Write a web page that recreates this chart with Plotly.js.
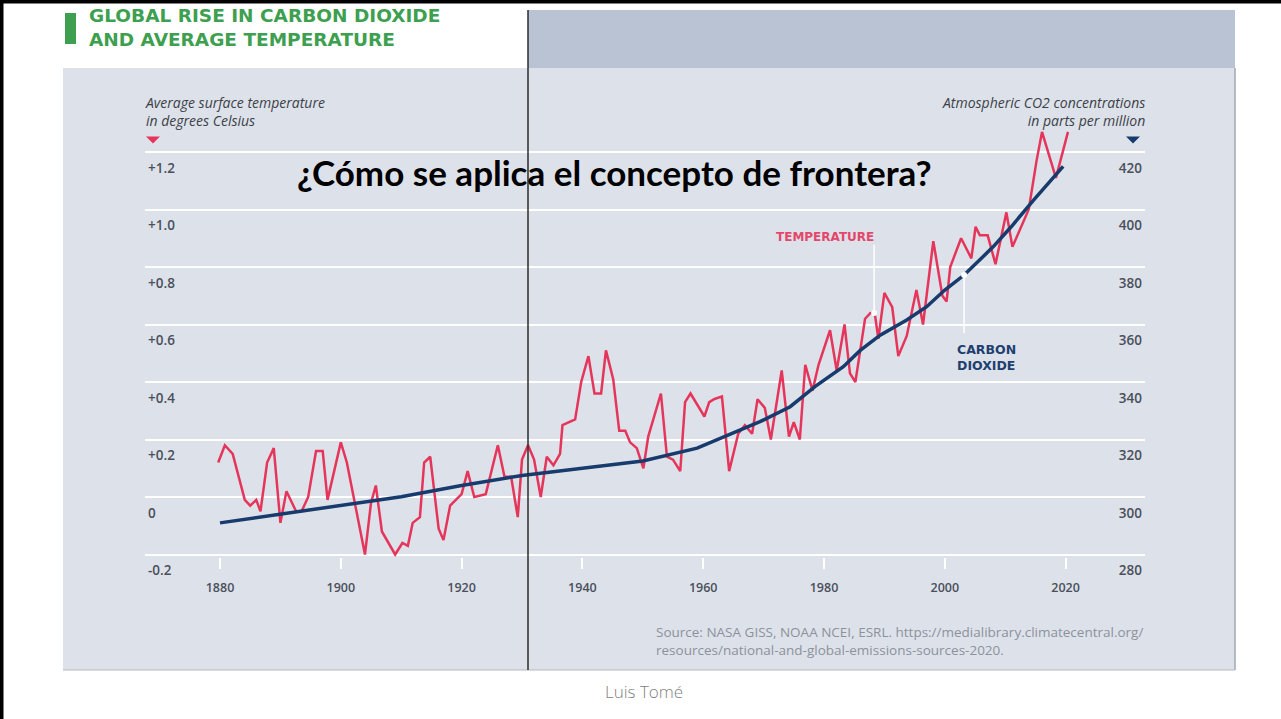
<!DOCTYPE html>
<html>
<head>
<meta charset="utf-8">
<script src="https://cdn.plot.ly/plotly-3.0.1.min.js"></script>
<style>
  html, body { margin: 0; padding: 0; background: #ffffff; }
  #chart { width: 1281px; height: 719px; }
</style>
</head>
<body>
<div id="chart"></div>
<script>
// ---- Data ----
const tempYears = [1879.7, 1880.8, 1882.1, 1884.1, 1885.0, 1886.0, 1886.7, 1887.8, 1888.9, 1890.0,
  1891.0, 1892.6, 1893.5, 1894.6, 1895.9, 1897.0, 1897.8, 1900.0, 1901.0, 1904.0,
  1905.0, 1905.8, 1906.8, 1909.0, 1910.2, 1911.1, 1911.9, 1913.1, 1913.8, 1914.8,
  1916.2, 1917.0, 1918.1, 1920.0, 1921.0, 1922.1, 1924.0, 1926.0, 1927.1, 1928.2,
  1929.3, 1930.0, 1931.0, 1932.0, 1933.1, 1934.1, 1935.2, 1936.3, 1936.7, 1938.8,
  1939.8, 1941.0, 1942.0, 1943.1, 1943.9, 1945.1, 1946.1, 1947.1, 1947.9, 1949.0,
  1950.1, 1950.9, 1953.0, 1954.0, 1955.0, 1956.2, 1957.0, 1957.9, 1960.2, 1961.0,
  1961.8, 1963.1, 1964.3, 1965.8, 1966.9, 1968.1, 1969.0, 1970.2, 1971.2, 1973.0,
  1974.2, 1975.0, 1976.0, 1976.9, 1978.1, 1979.1, 1981.0, 1982.1, 1983.4, 1984.3,
  1985.2, 1986.8, 1987.7, 1988.4, 1989.0, 1990.0, 1991.3, 1992.3, 1993.7, 1995.3,
  1996.4, 1998.1, 1999.6, 2000.3, 2000.9, 2002.7, 2004.4, 2005.1, 2005.8, 2007.1,
  2008.4, 2010.2, 2011.2, 2013.9, 2015.2, 2016.1, 2018.4, 2020.4];
const tempValues = [0.12, 0.18, 0.15, -0.01, -0.03, -0.01, -0.05, 0.12, 0.17, -0.09,
  0.02, -0.05, -0.05, 0.00, 0.16, 0.16, -0.01, 0.19, 0.12, -0.20,
  -0.02, 0.04, -0.12, -0.20, -0.16, -0.17, -0.09, -0.07, 0.12, 0.14,
  -0.11, -0.15, -0.03, 0.01, 0.09, 0.00, 0.01, 0.18, 0.07, 0.07,
  -0.07, 0.13, 0.18, 0.13, 0.00, 0.14, 0.11, 0.15, 0.25, 0.27,
  0.40, 0.49, 0.36, 0.36, 0.51, 0.41, 0.23, 0.23, 0.19, 0.17,
  0.10, 0.21, 0.36, 0.14, 0.13, 0.09, 0.33, 0.36, 0.28, 0.33,
  0.34, 0.35, 0.09, 0.22, 0.25, 0.22, 0.34, 0.31, 0.20, 0.44,
  0.21, 0.26, 0.20, 0.46, 0.37, 0.46, 0.58, 0.44, 0.60, 0.43,
  0.40, 0.62, 0.64, 0.64, 0.55, 0.71, 0.66, 0.49, 0.56, 0.72,
  0.60, 0.89, 0.70, 0.68, 0.80, 0.90, 0.83, 0.94, 0.91, 0.91,
  0.81, 0.99, 0.87, 1.00, 1.17, 1.27, 1.11, 1.27];

const co2Years = [1880, 1890, 1900, 1910, 1920, 1930, 1940, 1950, 1959, 1964, 1969.4, 1974.4,
  1978.5, 1983.2, 1986, 1989.3, 1993.7, 1997, 2000, 2003.2, 2008, 2011, 2014.7, 2019.6];
const co2Values = [291, 294, 297.3, 300.1, 304, 307.5, 310, 312.5, 317, 321.5, 326.2, 331.4,
  338.4, 345.3, 351, 356.3, 361.6, 366.2, 372, 377.2, 387, 394, 403.3, 415];

const yearTicks = [1880, 1900, 1920, 1940, 1960, 1980, 2000, 2020];
const tempTicks = [-0.2, 0, 0.2, 0.4, 0.6, 0.8, 1.0, 1.2];
const tempTickText = ['-0.2', '0', '+0.2', '+0.4', '+0.6', '+0.8', '+1.0', '+1.2'];
const co2Ticks = [280, 300, 320, 340, 360, 380, 400, 420];

// label anchor points (callouts)
const tempLabelYear = [1988.3];
const tempLabelValue = [0.64];
const co2LabelYear = [2003.2];
const co2LabelValue = [377.2];

// ---- layout helpers (pixel -> paper) ----
const L = 145, R = 1145, T = 100, B = 557;
const P = x => (x - L) / (R - L);
const Q = y => (B - y) / (B - T);

const RED = '#e6355b';
const NAVY = '#173b6c';
const GREEN = '#3d9f4f';
const YTICKFONT = {family: 'Open Sans, sans-serif', size: 13.5, color: '#4a4f5a', weight: 600};
const XTICKFONT = {family: 'Open Sans, sans-serif', size: 12.5, color: '#4a4f5a', weight: 600};
const ITALIC = {family: 'Open Sans, sans-serif', size: 14, color: '#3c3f47', style: 'italic'};

const traces = [
  {x: tempYears, y: tempValues, type: 'scatter', mode: 'lines', yaxis: 'y',
   line: {color: RED, width: 2.5}, hoverinfo: 'skip'},
  {x: co2Years, y: co2Values, type: 'scatter', mode: 'lines', yaxis: 'y2',
   line: {color: NAVY, width: 3.5}, hoverinfo: 'skip'},
  {x: tempLabelYear, y: tempLabelValue, type: 'scatter', mode: 'markers', yaxis: 'y',
   marker: {color: '#ffffff', size: 6}, hoverinfo: 'skip'},
  {x: co2LabelYear, y: co2LabelValue, type: 'scatter', mode: 'markers', yaxis: 'y2',
   marker: {color: '#ffffff', size: 6}, hoverinfo: 'skip'}
];

function ann(text, x, y, opts) {
  return Object.assign({text: text, xref: 'paper', yref: 'paper', x: P(x), y: Q(y),
    showarrow: false, xanchor: 'left', yanchor: 'middle', align: 'left', borderpad: 0}, opts);
}

const annotations = [
  ann('GLOBAL RISE IN CARBON DIOXIDE<br>AND AVERAGE TEMPERATURE', 88, 28,
    {font: {family: 'DejaVu Sans, sans-serif', size: 18.5, color: GREEN, weight: 700}}),
  ann('Average surface temperature<br>in degrees Celsius', 144, 111.5, {font: ITALIC}),
  ann('Atmospheric CO2 concentrations<br>in parts per million', 1146, 111.5,
    {xanchor: 'right', align: 'right', font: ITALIC}),
  ann('TEMPERATURE', 825, 237, {xanchor: 'center',
    font: {family: 'DejaVu Sans, sans-serif', size: 12, color: '#e4476a', weight: 700}}),
  ann('CARBON<br>DIOXIDE', 986, 357, {xanchor: 'center', align: 'left',
    font: {family: 'DejaVu Sans, sans-serif', size: 12.5, color: '#1e3f70', weight: 700}}),
  ann('Source: NASA GISS, NOAA NCEI, ESRL. https://medialibrary.climatecentral.org/<br>resources/national-and-global-emissions-sources-2020.', 655, 640.5,
    {font: {family: 'Open Sans, sans-serif', size: 13.5, color: '#8c919b'}}),
  ann('Luis Tomé', 644, 691, {xanchor: 'center',
    font: {family: 'Open Sans, sans-serif', size: 17, color: '#7f7f7f', weight: 300}}),
  ann('¿Cómo se aplica el concepto de frontera?', 614, 172, {xanchor: 'center',
    font: {family: 'Lato, sans-serif', size: 35, color: '#000000', weight: 700}})
];

function rect(x0, y0, x1, y1, fill, layer) {
  return {type: 'rect', xref: 'paper', yref: 'paper', x0: P(x0), x1: P(x1), y0: Q(y1), y1: Q(y0),
    fillcolor: fill, line: {width: 0}, layer: layer || 'below'};
}
function tri(cx, cy, w, h, fill) {
  const p = `M ${P(cx - w / 2)} ${Q(cy - h / 2)} L ${P(cx + w / 2)} ${Q(cy - h / 2)} L ${P(cx)} ${Q(cy + h / 2)} Z`;
  return {type: 'path', xref: 'paper', yref: 'paper', path: p, fillcolor: fill, line: {width: 0}, layer: 'below'};
}

const shapes = [
  rect(63, 68, 1235, 670, '#dde2ea'),
  rect(528, 10, 1235, 68, '#b9c3d4'),
  {type: 'line', xref: 'paper', yref: 'paper', x0: P(1235), x1: P(1235), y0: Q(68), y1: Q(670), line: {color: '#a2a8b0', width: 1.5}, layer: 'below'},
  {type: 'line', xref: 'paper', yref: 'paper', x0: P(63), x1: P(1235), y0: Q(670), y1: Q(670), line: {color: '#b4b9c0', width: 1}, layer: 'below'},
  rect(65, 13, 76, 44, GREEN),
  rect(0, 0, 1281, 3.5, '#000000', 'above'),
  rect(0, 0, 3.5, 719, '#000000', 'above'),
  tri(153, 140, 14, 7, RED),
  tri(1133, 140, 14, 7, NAVY),
  {type: 'line', xref: 'paper', yref: 'paper', x0: P(528), x1: P(528), y0: Q(10), y1: Q(670), line: {color: '#2b2b2b', width: 1.5}, layer: 'above'},
  {type: 'line', xref: 'x', yref: 'y', x0: tempLabelYear[0], x1: tempLabelYear[0], y0: tempLabelValue[0], y1: 0.877, line: {color: '#ffffff', width: 1.5}, layer: 'above'},
  {type: 'line', xref: 'x', yref: 'y2', x0: co2LabelYear[0], x1: co2LabelYear[0], y0: co2LabelValue[0], y1: 357, line: {color: '#ffffff', width: 1.5}, layer: 'above'}
];

const layout = {
  width: 1281, height: 719,
  margin: {l: L, r: 1281 - R, t: T, b: 719 - B, pad: 0},
  paper_bgcolor: '#ffffff', plot_bgcolor: 'rgba(0,0,0,0)',
  showlegend: false,
  xaxis: {range: [1867.58, 2033.15], tickvals: yearTicks, ticks: 'outside', ticklen: 11, tickwidth: 2,
    tickcolor: '#ffffff', showgrid: false, zeroline: false, showline: false, tickfont: XTICKFONT,
    ticklabelstandoff: 8, fixedrange: true},
  yaxis: {range: [-0.2087, 1.38087], tickvals: tempTicks, ticktext: tempTickText, showgrid: true,
    gridcolor: '#ffffff', gridwidth: 2, zeroline: false, showline: false, ticks: '',
    ticklabelposition: 'inside', ticklabelshift: 16, ticklabeloverflow: 'allow', tickfont: YTICKFONT, fixedrange: true},
  yaxis2: {range: [279.13, 438.09], tickvals: co2Ticks, overlaying: 'y', side: 'right', showgrid: false,
    zeroline: false, showline: false, ticks: '', ticklabelposition: 'inside', ticklabelshift: 16,
    ticklabeloverflow: 'allow', tickfont: YTICKFONT, fixedrange: true},
  annotations: annotations,
  shapes: shapes
};

Plotly.newPlot('chart', traces, layout, {displayModeBar: false, staticPlot: true});
</script>
</body>
</html>
